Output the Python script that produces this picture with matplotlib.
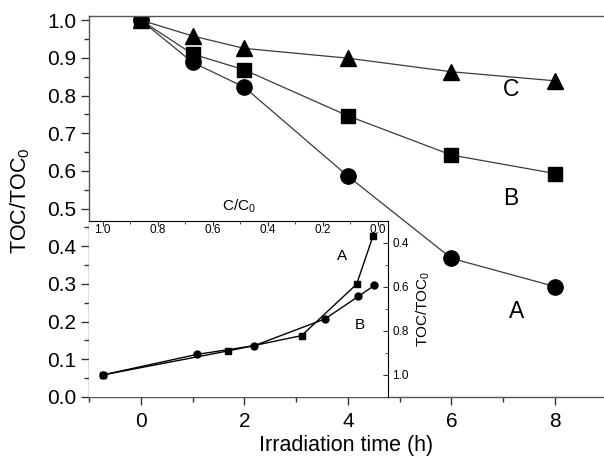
import matplotlib
matplotlib.use("Agg")
import matplotlib.pyplot as plt
from matplotlib.ticker import MultipleLocator

plt.rcParams['font.family'] = ['Liberation Sans', 'DejaVu Sans']
plt.rcParams['mathtext.fontset'] = 'custom'
plt.rcParams['mathtext.rm'] = 'Liberation Sans'
plt.rcParams['mathtext.it'] = 'Liberation Sans:italic'

# --- Main data: TOC/TOC0 vs irradiation time ---
time_h = [0, 1, 2, 4, 6, 8]
toc_a = [1.0, 0.888, 0.822, 0.586, 0.368, 0.293]
toc_b = [1.0, 0.910, 0.868, 0.746, 0.642, 0.593]
toc_c = [1.0, 0.958, 0.925, 0.899, 0.863, 0.839]

# --- Inset data: TOC/TOC0 vs C/C0 ---
inset_cc0_a = [1.0, 0.545, 0.276, 0.076, 0.017]
inset_toc_a = [1.0, 0.891, 0.821, 0.587, 0.370]
inset_cc0_b = [1.0, 0.655, 0.449, 0.191, 0.070, 0.012]
inset_toc_b = [1.0, 0.906, 0.867, 0.745, 0.643, 0.593]

line_col = '#3a3a3a'

fig = plt.figure(figsize=(6.04, 4.58), dpi=100)
ax = fig.add_axes([0.1474, 0.1332, 0.8526, 0.8319])

ax.plot(time_h, toc_a, '-o', color=line_col, lw=0.9, ms=11, mfc='black', mec='black')
ax.plot(time_h, toc_b, '-s', color=line_col, lw=0.9, ms=9.5, mfc='black', mec='black')
ax.plot(time_h, toc_c, '-^', color=line_col, lw=0.9, ms=11, mfc='black', mec='black')

ax.text(7.15, 0.817, 'C', fontsize=16.5, ha='center', va='center')
ax.text(7.15, 0.527, 'B', fontsize=16.5, ha='center', va='center')
ax.text(7.25, 0.226, 'A', fontsize=16.5, ha='center', va='center')

ax.set_xlim(-1, 8.947)
ax.set_ylim(0, 1.011)
ax.xaxis.set_major_locator(MultipleLocator(2))
ax.xaxis.set_minor_locator(MultipleLocator(1))
ax.yaxis.set_major_locator(MultipleLocator(0.1))
ax.yaxis.set_minor_locator(MultipleLocator(0.05))
ax.tick_params(which='both', direction='out', labelsize=15, color='#333333')
ax.tick_params(which='major', length=6, width=1)
ax.tick_params(which='minor', length=3.5, width=1)
ax.tick_params(axis='y', pad=3)
ax.tick_params(axis='x', pad=5)
ax.spines['right'].set_visible(False)
for s in ['left', 'bottom', 'top']:
    ax.spines[s].set_color('#555555')
    ax.spines[s].set_linewidth(1)
ax.set_xlabel('Irradiation time (h)', fontsize=15.5, labelpad=3)
ax.set_ylabel(r'TOC/TOC$_\mathrm{0}$', fontsize=15.5)
ax.yaxis.set_label_coords(-0.11, 0.515)

# --- Inset ---
ins = fig.add_axes([0.1474, 0.1332, 0.495, 0.3843])
ins.set_zorder(3)
ins.set_facecolor('white')
ins.plot(inset_cc0_a, inset_toc_a, '-s', color='black', lw=1, ms=4.2)
ins.plot(inset_cc0_b, inset_toc_b, '-o', color='black', lw=1, ms=5)
ins.text(0.13, 0.457, 'A', fontsize=11, ha='center', va='center')
ins.text(0.066, 0.772, 'B', fontsize=11, ha='center', va='center')

ins.set_xlim(1.049, -0.038)
ins.set_ylim(1.1, 0.3)
ins.spines['left'].set_visible(False)
ins.spines['bottom'].set_visible(False)
ins.xaxis.set_ticks_position('top')
ins.xaxis.set_label_position('top')
ins.yaxis.set_ticks_position('right')
ins.yaxis.set_label_position('right')
ins.xaxis.set_major_locator(MultipleLocator(0.2))
ins.xaxis.set_minor_locator(MultipleLocator(0.1))
ins.yaxis.set_major_locator(MultipleLocator(0.2))
ins.yaxis.set_minor_locator(MultipleLocator(0.1))
ins.tick_params(which='both', direction='in', labelsize=8.5, color='#333333')
ins.tick_params(which='major', length=3.5)
ins.tick_params(which='minor', length=2)
ins.tick_params(axis='x', pad=-10.5)
ins.tick_params(axis='y', pad=3)
ins.set_xlabel(r'C/C$_\mathrm{0}$', fontsize=11, labelpad=4)
ins.set_ylabel(r'TOC/TOC$_\mathrm{0}$', fontsize=11, labelpad=4)

fig.savefig('out.png', dpi=100)
